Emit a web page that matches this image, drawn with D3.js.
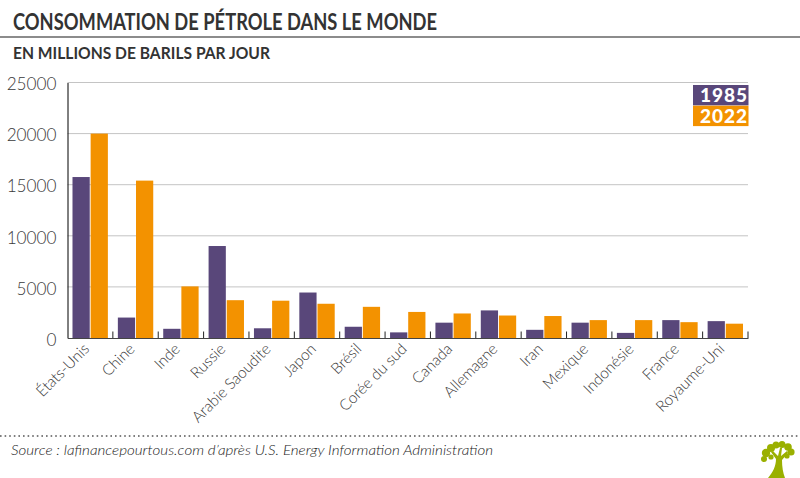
<!DOCTYPE html>
<html lang="fr">
<head>
<meta charset="utf-8">
<script src="https://cdn.jsdelivr.net/npm/d3@7"></script>
<style>
  html, body { margin: 0; padding: 0; background: #fff; }
  svg { display: block; font-family: Lato, "Open Sans", sans-serif; }
  .title { font-size: 22.5px; font-weight: 700; fill: #333; }
  .subtitle { font-size: 17.5px; font-weight: 700; fill: #333; }
  .source { font-family: "Lato Light", Lato, sans-serif; font-size: 14.5px; font-style: italic; font-weight: 300; fill: #222; }
  .y-axis text { font-family: "Lato Light", Lato, sans-serif; font-size: 17.2px; font-weight: 300; fill: #3a3a3a; }
  .x-axis text { font-family: "Lato Light", Lato, sans-serif; font-size: 15.5px; font-weight: 300; fill: #3a3a3a; letter-spacing: -0.1px; }
  .legend text { font-size: 19px; font-weight: 900; fill: #fff; }
</style>
</head>
<body>
<div id="chart-container"></div>
<script>
const categories = ["États-Unis", "Chine", "Inde", "Russie", "Arabie Saoudite", "Japon", "Brésil",
    "Corée du sud", "Canada", "Allemagne", "Iran", "Mexique", "Indonésie", "France", "Royaume-Uni"];
const values1985 = [15750, 2000, 900, 9000, 950, 4450, 1100, 550, 1500, 2700, 800, 1500, 500, 1750, 1650];
const values2022 = [20000, 15400, 5050, 3700, 3650, 3350, 3050, 2550, 2400, 2200, 2150, 1750, 1750, 1550, 1400];
const yTicks = [0, 5000, 10000, 15000, 20000, 25000];
const seriesNames = ["1985", "2022"];
const seriesColors = ["#59477a", "#f39200"];

const width = 800, height = 478;
const margin = { top: 82.5, right: 52, bottom: 140, left: 67.5 };

const svg = d3.select("#chart-container").append("svg")
    .attr("width", width)
    .attr("height", height);

// En-tête
svg.append("text").attr("class", "title").attr("x", 13).attr("y", 30)
    .attr("textLength", 424).attr("lengthAdjust", "spacingAndGlyphs")
    .text("CONSOMMATION DE PÉTROLE DANS LE MONDE");
svg.append("line").attr("x1", 0).attr("x2", width).attr("y1", 37).attr("y2", 37)
    .attr("stroke", "#666").attr("stroke-width", 1.5);
svg.append("text").attr("class", "subtitle").attr("x", 13).attr("y", 59)
    .attr("textLength", 257).attr("lengthAdjust", "spacingAndGlyphs")
    .text("EN MILLIONS DE BARILS PAR JOUR");

const x = d3.scaleBand()
    .domain(categories)
    .range([margin.left, width - margin.right]);

const inner = d3.scaleBand()
    .domain(seriesNames)
    .range([x.bandwidth() * 0.11, x.bandwidth() * 0.89])
    .paddingInner(0.05);

const y = d3.scaleLinear()
    .domain([0, 25000])
    .range([height - margin.bottom, margin.top]);

// Axe vertical et grille
svg.append("g")
    .attr("class", "grid")
    .selectAll("line")
    .data(yTicks.slice(1))
    .enter().append("line")
    .attr("x1", margin.left)
    .attr("x2", width - margin.right)
    .attr("y1", d => y(d))
    .attr("y2", d => y(d))
    .attr("stroke", "#c4c4c4")
    .attr("stroke-width", 1);

const yAxis = svg.append("g")
    .attr("class", "y-axis")
    .attr("transform", `translate(${margin.left},0)`)
    .call(d3.axisLeft(y).tickValues(yTicks).tickFormat(d3.format("d")).tickSize(0).tickPadding(11));
yAxis.select(".domain").attr("stroke", "#000").attr("stroke-width", 1);
yAxis.selectAll("text").attr("dy", "0.42em");

// Barres
const groups = svg.selectAll(".country")
    .data(categories)
    .enter().append("g")
    .attr("class", "country")
    .attr("transform", d => `translate(${x(d)},0)`);

[values1985, values2022].forEach((values, s) => {
    groups.append("rect")
        .attr("x", inner(seriesNames[s]))
        .attr("y", (d, i) => y(values[i]))
        .attr("width", inner.bandwidth())
        .attr("height", (d, i) => y(0) - y(values[i]))
        .attr("fill", seriesColors[s]);
});

// Axe horizontal
const xAxis = svg.append("g")
    .attr("class", "x-axis")
    .attr("transform", `translate(0,${y(0)})`)
    .call(d3.axisBottom(x).tickSize(0).tickPadding(0));
xAxis.select(".domain").attr("stroke", "#444").attr("stroke-width", 1.2);
xAxis.selectAll("text")
    .attr("text-anchor", "end")
    .attr("dy", 0)
    .attr("transform", "translate(0,12) rotate(-45)");

// Petits traits entre les pays
svg.append("g")
    .selectAll("line")
    .data(categories)
    .enter().append("line")
    .attr("x1", d => x(d) + x.step())
    .attr("x2", d => x(d) + x.step())
    .attr("y1", y(0))
    .attr("y2", y(0) - 6.5)
    .attr("stroke", "#222")
    .attr("stroke-width", 1);

// Légende
const legend = svg.append("g")
    .attr("class", "legend")
    .selectAll("g")
    .data(seriesNames)
    .enter().append("g")
    .attr("transform", (d, i) => `translate(693,${85 + i * 20.7})`);
legend.append("rect")
    .attr("width", 55.5)
    .attr("height", 20.4)
    .attr("fill", (d, i) => seriesColors[i]);
legend.append("text")
    .attr("x", 54)
    .attr("y", 17)
    .attr("text-anchor", "end")
    .attr("textLength", 47)
    .text(d => d);

// Pied de page
svg.append("line").attr("x1", 0).attr("x2", width).attr("y1", 436).attr("y2", 436)
    .attr("stroke", "#555").attr("stroke-width", 1.6).attr("stroke-dasharray", "1.6 3");
svg.append("text").attr("class", "source").attr("x", 11).attr("y", 455)
    .attr("textLength", 482).attr("lengthAdjust", "spacingAndGlyphs")
    .text("Source : lafinancepourtous.com d’après U.S. Energy Information Administration");

// Logo arbre
const logo = svg.append("g").attr("fill", "#9ab000").attr("transform", "translate(761,442)");
logo.append("path").attr("d", "M7 36 C12 30 15 24 15 17 L10 10 L12 9 L17 14 L19 6 L21 6 L20 14 L26 9 L27 11 L21 18 C21 25 22 31 24 36 Z");
[[3, 17, 3], [5, 11, 4.2], [10, 6, 4], [15, 3, 3.5], [21, 2.5, 3.5], [27, 5, 3.8], [30, 10, 3.6], [26, 14, 2.6], [10, 15, 2.6]]
    .forEach(c => logo.append("circle").attr("cx", c[0]).attr("cy", c[1]).attr("r", c[2]));
</script>
</body>
</html>
